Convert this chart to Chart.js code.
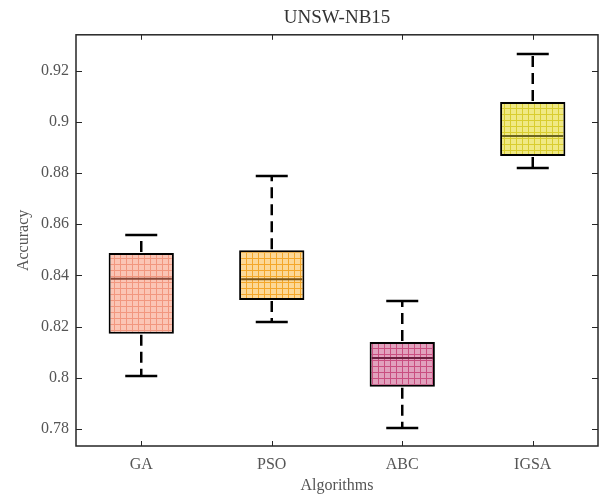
<!DOCTYPE html>
<html>
<head>
<meta charset="utf-8">
<script src="https://cdn.jsdelivr.net/npm/chart.js@4/dist/chart.umd.min.js"></script>
<style>
  html, body { margin: 0; padding: 0; background: #fff; }
  #wrap { width: 602px; height: 495px; }
</style>
</head>
<body>
<div id="wrap"><canvas id="box"></canvas></div>
<script>
// UNSW-NB15 accuracy box plot

const CATEGORIES = ['GA', 'PSO', 'ABC', 'IGSA'];
const WHISKER_LOW = [0.8007, 0.8218, 0.7804, 0.8820];
const Q1 = [0.8172, 0.8304, 0.7965, 0.8867];
const MEDIAN = [0.8387, 0.8385, 0.8078, 0.8945];
const Q3 = [0.8488, 0.8499, 0.8140, 0.9078];
const WHISKER_HIGH = [0.8558, 0.8789, 0.8300, 0.9265];
const Y_TICKS = [0.78, 0.80, 0.82, 0.84, 0.86, 0.88, 0.90, 0.92];

const FONT = "'Liberation Serif', 'DejaVu Serif', serif";
const TEXT = '#555555';
const AXIS = '#262626';

// fill / grid-line / median colours per box
const FILLS = ['#fbc5b5', '#fcd897', '#e1a1bd', '#f0e984'];
const HATCH = ['#f2977f', '#f4a72a', '#c94f80', '#d9cd2f'];
const MEDS = ['#8a4a3a', '#7a5316', '#6e1f40', '#6b6420'];

function gridPattern(fill, line) {
    const c = document.createElement('canvas');
    c.width = 6; c.height = 6;
    const g = c.getContext('2d');
    g.fillStyle = fill;
    g.fillRect(0, 0, 6, 6);
    g.fillStyle = line;
    g.fillRect(0, 0, 1, 6);
    g.fillRect(0, 0, 6, 1);
    return g.createPattern(c, 'repeat');
}

const boxPlot = {
    id: 'boxPlot',
    afterDatasetsDraw(chart) {
        const ctx = chart.ctx;
        const y = chart.scales.y;
        const bars = chart.getDatasetMeta(0).data;
        ctx.save();
        bars.forEach((bar, i) => {
            const cx = bar.x;
            const half = bar.width / 2;
            const yq1 = y.getPixelForValue(Q1[i]);
            const yq3 = y.getPixelForValue(Q3[i]);
            const ymed = y.getPixelForValue(MEDIAN[i]);
            const ylo = y.getPixelForValue(WHISKER_LOW[i]);
            const yhi = y.getPixelForValue(WHISKER_HIGH[i]);

            // median
            ctx.strokeStyle = MEDS[i];
            ctx.lineWidth = 2;
            ctx.setLineDash([]);
            ctx.beginPath();
            ctx.moveTo(cx - half + 2, ymed);
            ctx.lineTo(cx + half - 2, ymed);
            ctx.stroke();

            // whiskers
            ctx.strokeStyle = '#000';
            ctx.lineWidth = 2.5;
            ctx.setLineDash([11, 6]);
            ctx.beginPath();
            ctx.moveTo(cx, yq3 - 1); ctx.lineTo(cx, yhi);
            ctx.moveTo(cx, yq1 + 1); ctx.lineTo(cx, ylo);
            ctx.stroke();

            // caps
            ctx.setLineDash([]);
            ctx.lineWidth = 2.5;
            ctx.beginPath();
            ctx.moveTo(cx - 16, yhi); ctx.lineTo(cx + 16, yhi);
            ctx.moveTo(cx - 16, ylo); ctx.lineTo(cx + 16, ylo);
            ctx.stroke();
        });
        ctx.restore();
    },
    afterDraw(chart) {
        // box frame with inward ticks on all four sides
        const ctx = chart.ctx;
        const a = chart.chartArea;
        const xs = chart.scales.x;
        const ys = chart.scales.y;
        ctx.save();
        ctx.strokeStyle = AXIS;
        ctx.lineWidth = 1.5;
        ctx.strokeRect(a.left, a.top, a.right - a.left, a.bottom - a.top);
        ctx.beginPath();
        xs.ticks.forEach((t, i) => {
            const px = Math.round(xs.getPixelForTick(i)) + 0.5;
            ctx.moveTo(px, a.bottom); ctx.lineTo(px, a.bottom - 5);
            ctx.moveTo(px, a.top); ctx.lineTo(px, a.top + 5);
        });
        ys.ticks.forEach((t, i) => {
            const py = Math.round(ys.getPixelForTick(i)) + 0.5;
            ctx.moveTo(a.left, py); ctx.lineTo(a.left + 6, py);
            ctx.moveTo(a.right, py); ctx.lineTo(a.right - 6, py);
        });
        ctx.lineWidth = 1;
        ctx.stroke();
        ctx.restore();
    }
};

new Chart(document.getElementById('box'), {
    type: 'bar',
    data: {
        labels: CATEGORIES,
        datasets: [{
            data: CATEGORIES.map((c, i) => [Q1[i], Q3[i]]),
            backgroundColor: FILLS.map((f, i) => gridPattern(f, HATCH[i])),
            borderColor: '#000',
            borderWidth: 2,
            borderSkipped: false,
            barPercentage: 0.5,
            categoryPercentage: 1.0,
        }]
    },
    options: {
        responsive: true,
        maintainAspectRatio: false,
        animation: false,
        layout: { padding: { top: 0, right: 4, bottom: 0, left: 0 } },
        plugins: {
            legend: { display: false },
            tooltip: { enabled: false },
            title: {
                display: true,
                fullSize: false,
                text: 'UNSW-NB15',
                color: '#333333',
                font: { family: FONT, size: 19, weight: 'normal' },
                padding: { top: 7, bottom: 5 }
            }
        },
        scales: {
            x: {
                grid: { display: false, drawTicks: false },
                border: { display: false },
                ticks: { color: TEXT, font: { family: FONT, size: 16 }, padding: 9 },
                title: {
                    display: true,
                    text: 'Algorithms',
                    color: TEXT,
                    font: { family: FONT, size: 16 },
                    padding: { top: 4, bottom: 0 }
                },
                afterFit(scale) { scale.height = 49; }
            },
            y: {
                min: 0.7734,
                max: 0.934,
                grid: { display: false, drawTicks: false },
                border: { display: false },
                afterBuildTicks(scale) {
                    scale.ticks = Y_TICKS.map(v => ({ value: v }));
                },
                ticks: {
                    color: TEXT,
                    font: { family: FONT, size: 16 },
                    padding: 7,
                    callback: v => String(parseFloat(v.toFixed(2)))
                },
                title: {
                    display: true,
                    text: 'Accuracy',
                    color: TEXT,
                    font: { family: FONT, size: 16 },
                    padding: { top: 14, bottom: 4 }
                },
                afterFit(scale) { scale.width = 76; }
            }
        }
    },
    plugins: [boxPlot]
});
</script>
</body>
</html>
